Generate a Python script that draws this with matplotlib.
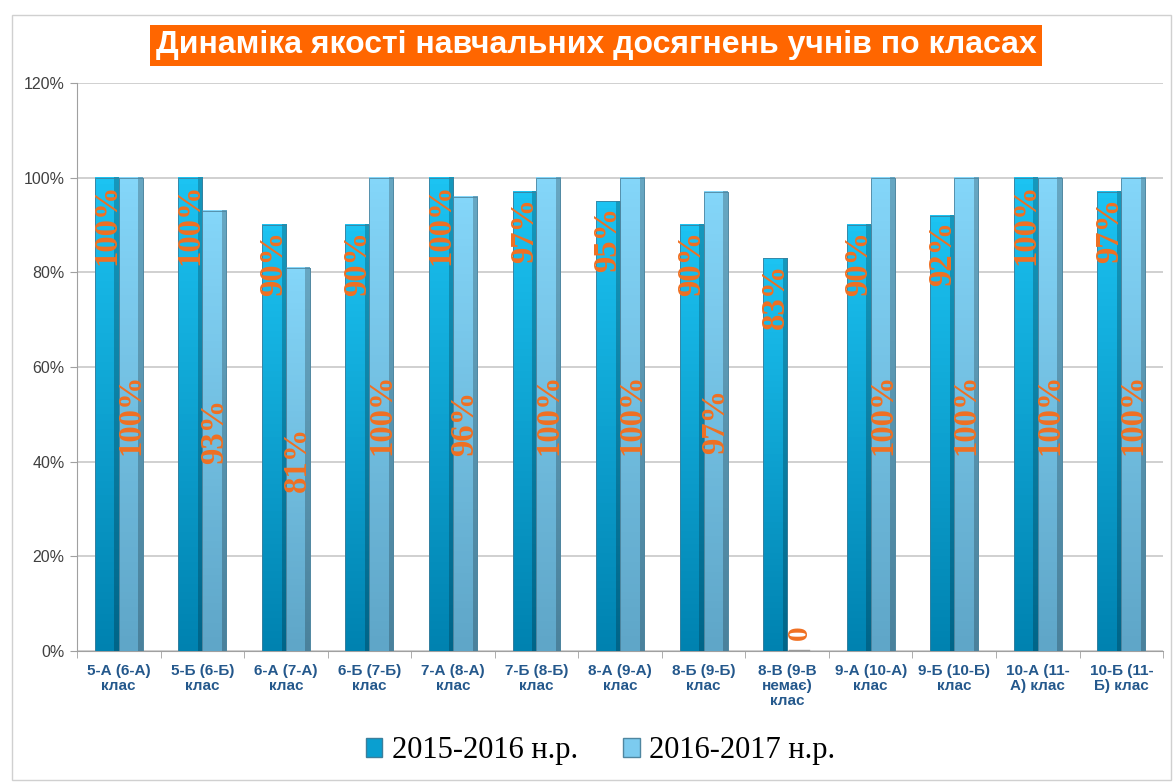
import numpy as np
import matplotlib
matplotlib.use("Agg")
import matplotlib.pyplot as plt
from matplotlib.patches import Rectangle, Patch

# data
classes = ["5-А (6-А)\nклас", "5-Б (6-Б)\nклас", "6-А (7-А)\nклас", "6-Б (7-Б)\nклас",
           "7-А (8-А)\nклас", "7-Б (8-Б)\nклас", "8-А (9-А)\nклас", "8-Б (9-Б)\nклас",
           "8-В (9-В\nнемає)\nклас", "9-А (10-А)\nклас", "9-Б (10-Б)\nклас",
           "10-А (11-\nА) клас", "10-Б (11-\nБ) клас"]
y2016 = [100, 100, 90, 90, 100, 97, 95, 90, 83, 90, 92, 100, 97]
y2017 = [100, 93, 81, 100, 96, 100, 100, 97, 0, 100, 100, 100, 100]
labels2016 = ["100%", "100%", "90%", "90%", "100%", "97%", "95%", "90%", "83%", "90%", "92%", "100%", "97%"]
labels2017 = ["100%", "93%", "81%", "100%", "96%", "100%", "100%", "97%", "0", "100%", "100%", "100%", "100%"]
series = ["2015-2016 н.р.", "2016-2017 н.р."]
yticks = [0, 20, 40, 60, 80, 100, 120]

fig = plt.figure(figsize=(11.73, 7.82), dpi=100)
ax = fig.add_axes([0.0656, 0.1675, 0.926, 0.7264])

x = np.arange(len(classes))
w = 0.287
orange = "#F07022"


def grad_bars(xs, vals, top, bottom, edge):
    bars = ax.bar(xs, vals, width=w, color=bottom, edgecolor="#5A8AA0", linewidth=0.5, zorder=2)
    for b in bars:
        h = b.get_height()
        if h <= 0:
            continue
        x0 = b.get_x()
        g = np.linspace(0, 1, 64).reshape(-1, 1)
        c0 = np.array(matplotlib.colors.to_rgb(top))
        c1 = np.array(matplotlib.colors.to_rgb(bottom))
        img = c0 * (1 - g[..., None]) + c1 * g[..., None]
        img = np.repeat(img, 2, axis=1)
        ax.imshow(img, extent=(x0, x0 + b.get_width() * 0.82, 0, h), aspect="auto", zorder=3)
        img2 = img * 0.78
        ax.imshow(img2, extent=(x0 + b.get_width() * 0.82, x0 + b.get_width(), 0, h),
                  aspect="auto", zorder=3)
        ax.add_patch(Rectangle((x0, 0), b.get_width(), h, fill=False, edgecolor=edge,
                               linewidth=0.6, zorder=4))
    return bars


grad_bars(x - w / 2, y2016, "#1CC3F2", "#0082B0", "#3C7F9C")
grad_bars(x + w / 2, y2017, "#84D6F9", "#5FA6C8", "#4F86A0")
ax.plot([x[8] + 0.02, x[8] + w - 0.02], [0.2, 0.2], color="#999999", lw=1, zorder=4)

for i in range(len(classes)):
    if y2016[i] > 0:
        ax.annotate(labels2016[i], (x[i] - w / 2, y2016[i]), xytext=(0, -4),
                    textcoords="offset points", rotation=90, ha="center", va="top",
                    fontsize=23.5, fontweight="bold", family="Liberation Serif",
                    color=orange, zorder=5)
    if y2017[i] > 0:
        ax.text(x[i] + w / 2, y2017[i] / 2, labels2017[i], rotation=90, ha="center",
                va="center", fontsize=23.5, fontweight="bold", family="Liberation Serif",
                color=orange, zorder=5)
    else:
        ax.text(x[i] + w / 2, 3.8, labels2017[i], rotation=90, ha="center", va="center",
                fontsize=21, fontweight="bold", family="Liberation Serif",
                color=orange, zorder=5)

ax.set_xlim(-0.5, len(classes) - 0.5)
ax.set_ylim(0, 120)
ax.set_yticks(yticks)
ax.set_yticklabels([f"{v}%" for v in yticks], fontsize=11.5, color="#404040",
                   family="Liberation Sans")
ax.set_xticks(x)
ax.set_xticklabels(classes, fontsize=11, fontweight="bold", color="#24588C",
                   family="Liberation Sans", linespacing=1.1)
ax.set_xticks(np.arange(-0.5, len(classes)), minor=True)
ax.tick_params(axis="x", which="major", length=0, pad=9)
ax.tick_params(axis="x", which="minor", length=5, color="#A0A0A0")
ax.tick_params(axis="y", length=5, color="#A0A0A0", pad=4)
ax.yaxis.grid(True, color="#C8C8C8", linewidth=1.2, zorder=0)
ax.set_axisbelow(True)
for s in ["top", "right"]:
    ax.spines[s].set_visible(False)
ax.spines["left"].set_color("#A0A0A0")
ax.spines["bottom"].set_color("#A0A0A0")

fig.text(0.508, 0.942, "Динаміка якості навчальних досягнень учнів по класах",
         ha="center", va="center", fontsize=23, fontweight="bold", color="white",
         family="Liberation Sans",
         bbox=dict(boxstyle="square,pad=0.18", facecolor="#FF6600", edgecolor="none"))

handles = [Patch(facecolor="#0A9FD0", edgecolor="#3C7F9C"),
           Patch(facecolor="#7CCBEF", edgecolor="#4F86A0")]
fig.legend(handles, series, loc="center", bbox_to_anchor=(0.512, 0.040), ncol=2,
           frameon=False, prop={"family": "Liberation Serif", "size": 22},
           handlelength=0.55, handleheight=0.55, handletextpad=0.3, columnspacing=1.5)

fig.patches.append(Rectangle((0.010, 0.003), 0.988, 0.978, transform=fig.transFigure,
                             fill=False, edgecolor="#D0D0D0", linewidth=1))

fig.savefig("out.png", dpi=100)
